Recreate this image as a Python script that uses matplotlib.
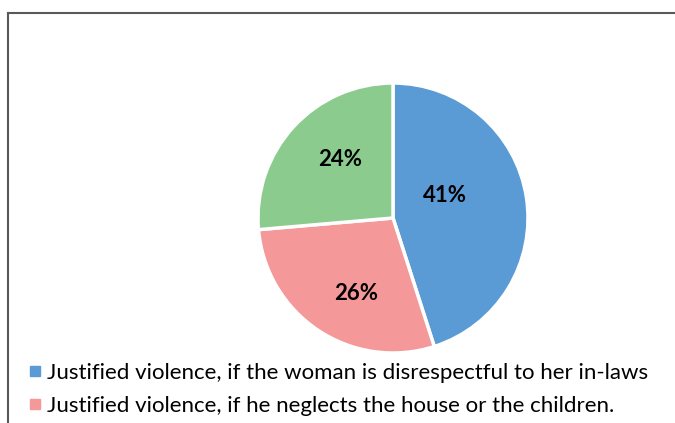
import numpy as np
import matplotlib.pyplot as plt
from matplotlib.lines import Line2D

labels = [
    "Justified violence, if the woman is disrespectful to her in-laws",
    "Justified violence, if he neglects the house or the children.",
    "Other",
]
values = [41, 26, 24]
pct_labels = ["41%", "26%", "24%"]
colors = ["#5B9BD5", "#F49899", "#8BCB8E"]

plt.rcParams['font.family'] = ['Lato', 'DejaVu Sans']

W, H = 675, 423
fig = plt.figure(figsize=(W / 100, H / 100), dpi=100)

# pie centred at (393, 218) px, radius ~134 px
cx, cy, r = 393, 218, 135
ax = fig.add_axes([(cx - r) / W, (H - cy - r) / H, 2 * r / W, 2 * r / H])
wedges, _ = ax.pie(values, colors=colors, startangle=90, counterclock=False,
                   radius=1.0,
                   wedgeprops=dict(edgecolor="white", linewidth=2.5))
ax.set_xlim(-1, 1)
ax.set_ylim(-1, 1)
ax.set_aspect("equal")
ax.axis("off")

# label placement roughly like Excel's
label_pos = [(0.42, 23), (0.62, 244), (0.58, 132)]
for txt, (dist, ang) in zip(pct_labels, label_pos):
    a = np.deg2rad(ang)
    ax.text(dist * np.cos(a), dist * np.sin(a), txt, ha="center", va="center",
            fontsize=16, fontweight="bold", color="black")

# frame (left and top edges only visible)
fig.add_artist(Line2D([8 / W, 8 / W], [0, 1 - 13 / H], color="#595959", lw=1.5))
fig.add_artist(Line2D([8 / W, 1], [1 - 13 / H, 1 - 13 / H], color="#595959", lw=1.5))

handles = [Line2D([], [], marker="s", linestyle="none", markersize=7,
                  markerfacecolor=c, markeredgecolor=c) for c in colors[:2]]
fig.legend(handles, labels[:2], loc="upper left",
           bbox_to_anchor=(28 / W, 1 - 363 / H), frameon=False,
           fontsize=16, handlelength=0.6, handletextpad=0.27,
           labelspacing=0.57, borderaxespad=0, borderpad=0)

fig.savefig("out.png", dpi=100)
